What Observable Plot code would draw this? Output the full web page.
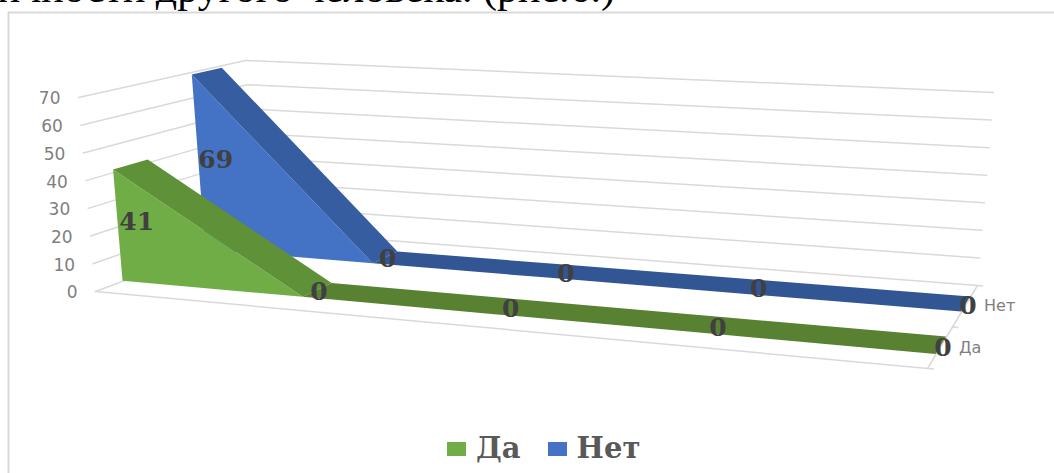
<!DOCTYPE html>
<html>
<head>
<meta charset="utf-8">
<script src="https://cdn.jsdelivr.net/npm/d3@7"></script>
<script src="https://cdn.jsdelivr.net/npm/@observablehq/plot@0.6"></script>
<style>
html,body{margin:0;padding:0;background:#fff;overflow:hidden;width:1054px;height:473px}
#wrap{position:relative;width:1054px;height:473px;overflow:hidden}
#wrap svg{position:absolute;left:0;top:0;background:transparent}
#head{position:absolute;right:439px;top:-32px;font:42px/40px "Liberation Serif",serif;color:#000;white-space:nowrap}
#legend{position:absolute;left:447px;top:432px;display:flex;align-items:center;height:32px;font:bold 29px "DejaVu Serif",serif;color:#595959}
#legend i{display:inline-block;width:19px;height:14px;margin-right:10px;margin-top:1px}
#legend span{margin-right:27px}
</style>
</head>
<body>
<div id="wrap">
<div id="head">личности другого человека. (рис.6.)</div>
<div id="chart"></div>
<div id="legend"></div>
</div>
<script>
// Data
const categories = [1, 2, 3, 4, 5];
const seriesNames = ["Да", "Нет"];
const valuesDa = [41, 0, 0, 0, 0];
const valuesNet = [69, 0, 0, 0, 0];
const valueTicks = [0, 10, 20, 30, 40, 50, 60, 70];

// Perspective box of the 3D chart
const box = {
  flb: [95, 291], flt: [78, 97], blb: [257, 230], blt: [245, 60],
  frb: [927, 368], brb: [977, 285], brt: [993, 92], frt: [944, 175]
};
const vMax = 70;
const foreshorten = 1.17;
const lerp = (a, b, t) => a + (b - a) * t;
const mix = (p, q, t) => [lerp(p[0], q[0], t), lerp(p[1], q[1], t)];
// c: along categories 0..1, d: depth 0..1, v: value
function project(c, d, v) {
  const h = v / vMax;
  const fl = mix(box.flb, box.flt, h), bl = mix(box.blb, box.blt, h);
  const fr = mix(box.frb, box.frt, h), br = mix(box.brb, box.brt, h);
  return mix(mix(fl, bl, d), mix(fr, br, d), c);
}
const catPos = i => {
  const t = i / (categories.length - 1);
  return t / (t + foreshorten * (1 - t));
};
const depth = {
  "Да": {front: 0.17, back: 0.38, mid: 0.27, tick: 0.25},
  "Нет": {front: 0.68, back: 0.86, mid: 0.77, tick: 0.75}
};
const style = {
  "Да": {face: "#70ad47", slope: "#5e9138", flat: "#588132"},
  "Нет": {face: "#4472c4", slope: "#365da0", flat: "#325694"}
};
const valuesOf = {"Да": valuesDa, "Нет": valuesNet};

// Table rows built from the arrays
function segments(name) {
  const vals = valuesOf[name], rows = [];
  for (let i = 0; i < vals.length - 1; i++) {
    for (const j of [i, i + 1]) {
      const c = catPos(j), D = depth[name];
      const ft = project(c, D.front, vals[j]), bt = project(c, D.back, vals[j]), fb = project(c, D.front, 0);
      rows.push({seg: i, ft, bt, fb});
    }
  }
  return rows;
}
const gridColor = "#d9d9d9";
const seg = (a, b, k) => [{k, p: a}, {k, p: b}];
const back = valueTicks.flatMap(v => seg(project(0, 1, v), project(1, 1, v), "b" + v));
const left = valueTicks.flatMap(v => seg(project(0, 0, v), project(0, 1, v), "l" + v));
const floor = [
  ...seg(project(0, 0, 0), project(1.007, 0, 0), "front"),
  ...seg(project(1, 0, 0), project(1, 1, 0), "side"),
  ...seg(project(1, 0.5, 0), project(1.007, 0.5, 0), "tickMid"),
  ...seg(project(1, 1, 0), project(1.007, 1, 0), "tickBack")
];
const gridLines = [...back, ...left, ...floor];
const px = d => d.p[0], py = d => d.p[1];

function seriesMarks(name) {
  const rows = segments(name), S = style[name];
  const frontRows = rows.filter(r => r.seg === 0);
  const flatRows = rows.filter(r => r.seg > 0);
  return [
    Plot.area(frontRows, {x1: r => r.ft[0], y1: r => r.ft[1], x2: r => r.fb[0], y2: r => r.fb[1], fill: S.face}),
    Plot.area(frontRows, {x1: r => r.ft[0], y1: r => r.ft[1], x2: r => r.bt[0], y2: r => r.bt[1], fill: S.slope}),
    Plot.area(flatRows, {x1: r => r.ft[0], y1: r => r.ft[1], x2: r => r.bt[0], y2: r => r.bt[1], fill: S.flat})
  ];
}
const pointLabels = seriesNames.flatMap(name =>
  valuesOf[name].map((v, i) => {
    const p = project(catPos(i), depth[name].mid, v / 2);
    return {x: p[0], y: p[1], text: String(v)};
  }));
const tickLabels = valueTicks.map(v => {
  const p = project(0, 0, v);
  return {x: p[0], y: p[1], text: String(v)};
});
const sideLabels = seriesNames.map(name => {
  const p = project(1, depth[name].tick, 0);
  return {x: p[0], y: p[1], text: name};
});

const chart = Plot.plot({
  width: 1054, height: 473,
  margin: 0,
  style: {background: "transparent"},
  x: {type: "identity", axis: null},
  y: {type: "identity", axis: null},
  marks: [
    // chart frame
    Plot.ruleX([8], {y1: 12, y2: 473, stroke: gridColor, strokeWidth: 2}),
    Plot.ruleY([12], {x1: 8, x2: 1054, stroke: gridColor, strokeWidth: 2}),
    Plot.line(gridLines, {x: px, y: py, z: "k", stroke: gridColor, strokeWidth: 1.5}),
    ...seriesMarks("Нет"),
    ...seriesMarks("Да"),
    Plot.text(tickLabels, {x: "x", y: "y", text: "text", dx: -18, dy: 1.5, textAnchor: "end", fontSize: 17, fontFamily: "DejaVu Sans", fill: "#7f7f7f"}),
    Plot.text(sideLabels, {x: "x", y: "y", text: "text", dx: 19, textAnchor: "start", fontSize: 16, fontFamily: "DejaVu Sans", fill: "#7f7f7f"}),
    Plot.text(pointLabels, {x: "x", y: "y", text: "text", dx: 2, dy: 1.5, fontSize: 25, fontWeight: "bold", fontFamily: "DejaVu Serif", fill: "#404040"})
  ]
});
document.getElementById("chart").append(chart);

const legend = document.getElementById("legend");
for (const name of seriesNames) {
  const i = document.createElement("i");
  i.style.background = style[name].face;
  const s = document.createElement("span");
  s.textContent = name;
  legend.append(i, s);
}
</script>
</body>
</html>
